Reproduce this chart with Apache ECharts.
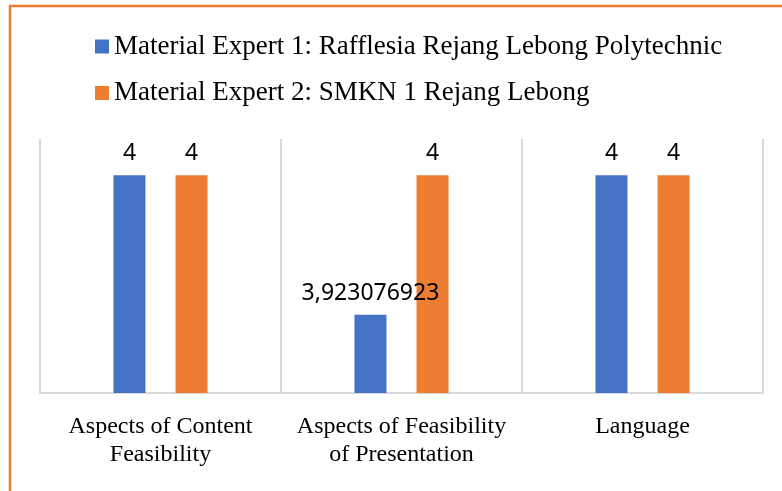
<!DOCTYPE html>
<html>
<head>
<meta charset="utf-8">
<script src="https://cdn.jsdelivr.net/npm/echarts@6/dist/echarts.min.js"></script>
<style>
html,body{margin:0;padding:0;background:#fff;}
#chart{width:782px;height:491px;}
</style>
</head>
<body>
<div id="chart"></div>
<script>
const categories = ["Aspects of Content\nFeasibility", "Aspects of Feasibility\nof Presentation", "Language"];
const seriesNames = ["Material Expert 1: Rafflesia Rejang Lebong Polytechnic", "Material Expert 2: SMKN 1 Rejang Lebong"];
const expert1 = [4, 3.923076923, 4];
const expert2 = [4, 4, 4];
const labelText1 = ["4", "3,923076923", "4"];
const labelText2 = ["4", "4", "4"];
const colors = ["#4472C4", "#ED7D31"];

const chart = echarts.init(document.getElementById('chart'), null, {renderer: 'canvas'});
function mkLabel(texts){
  return {
    show: true, position: 'top', distance: 10,
    fontFamily: 'Noto Sans', fontSize: 23, color: '#000',
    formatter: p => texts[p.dataIndex]
  };
}
chart.setOption({
  backgroundColor: '#fff',
  animation: false,
  graphic: [{
    type: 'rect', silent: true,
    shape: {x: 10, y: 6, width: 1000, height: 1000},
    style: {fill: 'none', stroke: '#ED7D31', lineWidth: 2.5}
  }],
  legend: {
    orient: 'vertical', left: 90, top: 28,
    itemWidth: 14, itemHeight: 14, itemGap: 19.5,
    icon: 'rect',
    textStyle: {fontFamily: 'Liberation Serif', fontSize: 27, lineHeight: 27, color: '#000'},
    data: seriesNames
  },
  grid: {left: 40, right: 19, top: 139, bottom: 98, containLabel: false},
  xAxis: {
    type: 'category', data: categories,
    axisLine: {show: true, lineStyle: {color: '#d9d9d9', width: 2}},
    axisTick: {show: false},
    splitLine: {show: true, interval: 0, lineStyle: {color: '#d9d9d9', width: 2}},
    axisLabel: {interval: 0, margin: 20, fontFamily: 'Liberation Serif', fontSize: 24, lineHeight: 28, color: '#000'}
  },
  yAxis: {
    type: 'value', min: 3.88, max: 4.02,
    axisLabel: {show: false}, axisLine: {show: false}, axisTick: {show: false}, splitLine: {show: false}
  },
  series: [
    {name: seriesNames[0], type: 'bar', data: expert1, barWidth: 32, barGap: '94%',
     itemStyle: {color: colors[0]}, label: mkLabel(labelText1)},
    {name: seriesNames[1], type: 'bar', data: expert2, barWidth: 32, barGap: '94%',
     itemStyle: {color: colors[1]}, label: mkLabel(labelText2)}
  ]
});
</script>
</body>
</html>
